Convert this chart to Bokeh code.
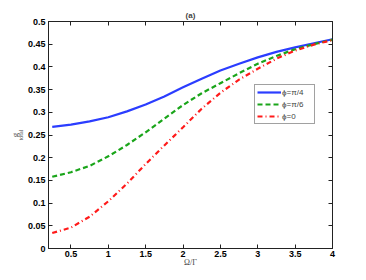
from bokeh.plotting import figure
from bokeh.models import LinearAxis, FixedTicker, Range1d, Legend, LegendItem, Title
from bokeh.embed import file_html
from bokeh.resources import INLINE

# ---- data ----
omega = [0.25, 0.5, 0.75, 1.0, 1.25, 1.5, 1.75, 2.0, 2.25, 2.5, 2.75, 3.0, 3.25, 3.5, 3.75, 4.0]
g_pi4 = [0.268, 0.273, 0.280, 0.289, 0.302, 0.317, 0.335, 0.355, 0.374, 0.392, 0.407, 0.421, 0.433, 0.443, 0.452, 0.461]
g_pi6 = [0.158, 0.168, 0.182, 0.203, 0.228, 0.256, 0.286, 0.316, 0.342, 0.364, 0.386, 0.407, 0.424, 0.439, 0.450, 0.460]
g_0 = [0.034, 0.046, 0.070, 0.104, 0.143, 0.186, 0.227, 0.267, 0.308, 0.343, 0.372, 0.396, 0.418, 0.436, 0.449, 0.459]
series_names = ["\u03d5=\u03c0/4", "\u03d5=\u03c0/6", "\u03d5=0"]

x_ticks = [0.5, 1.0, 1.5, 2.0, 2.5, 3.0, 3.5, 4.0]
x_tick_labels = ["0.5", "1", "1.5", "2", "2.5", "3", "3.5", "4"]
y_ticks = [0, 0.05, 0.1, 0.15, 0.2, 0.25, 0.3, 0.35, 0.4, 0.45, 0.5]
y_tick_labels = ["0", "0.05", "0.1", "0.15", "0.2", "0.25", "0.3", "0.35", "0.4", "0.45", "0.5"]

p = figure(width=358, height=272, output_backend="svg", toolbar_location=None,
           x_range=Range1d(0.2, 4.0), y_range=Range1d(0, 0.5),
           min_border_left=48, min_border_right=26, min_border_top=21, min_border_bottom=24)
p.background_fill_color = "white"
p.border_fill_color = "white"
p.outline_line_color = "#222222"
p.grid.visible = False

TICK_FONT = "Liberation Sans"

p.title.text = "(a)"
p.title.align = "center"
p.title.text_font = TICK_FONT
p.title.text_font_style = "bold"
p.title.text_font_size = "8px"
p.title.standoff = 4

def style_axis(ax, ticks, labels, show):
    ax.ticker = FixedTicker(ticks=ticks)
    ax.major_label_overrides = {t: (l if show else "") for t, l in zip(ticks, labels)}
    ax.major_tick_in = 4
    ax.major_tick_out = 0
    ax.minor_tick_in = 0
    ax.minor_tick_out = 0
    ax.axis_line_color = "#222222"
    ax.major_tick_line_color = "#222222"
    ax.major_label_text_font = TICK_FONT
    ax.major_label_text_font_style = "bold"
    ax.major_label_text_font_size = "9px"
    ax.major_label_text_color = "black"
    ax.major_label_standoff = 3

bottom_ax = p.below[0]
left_ax = p.left[0]
style_axis(bottom_ax, x_ticks, x_tick_labels, True)
style_axis(left_ax, y_ticks, y_tick_labels, True)
bottom_ax.major_label_standoff = 2

top_ax = LinearAxis()
right_ax = LinearAxis()
style_axis(top_ax, x_ticks, x_tick_labels, False)
style_axis(right_ax, y_ticks, y_tick_labels, False)
top_ax.major_label_standoff = 0
right_ax.major_label_standoff = 0
p.add_layout(top_ax, "above")
p.add_layout(right_ax, "right")

bottom_ax.axis_label = "\u03a9/\u0393"
bottom_ax.axis_label_text_font = "Liberation Serif"
bottom_ax.axis_label_text_font_style = "normal"
bottom_ax.axis_label_text_font_size = "8px"
bottom_ax.axis_label_standoff = -2

# y label: "g" with subscript "total", as two rotated titles on the left
ysub = Title(text="total", align="center", offset=7, standoff=1,
             text_font="Liberation Serif", text_font_size="6px", text_font_style="normal")
ymain = Title(text="g", align="center", offset=-5, standoff=-8,
              text_font="Liberation Serif", text_font_size="9px", text_font_style="normal")
p.add_layout(ysub, "left")
p.add_layout(ymain, "left")

r1 = p.line(omega, g_pi4, line_color="#2b3dff", line_width=2.2)
r2 = p.line(omega, g_pi6, line_color="#1aa51a", line_width=2.2, line_dash="5 3")
r3 = p.line(omega, g_0, line_color="#ff1a1a", line_width=2.2, line_dash="5 3 1 3")

legend = Legend(items=[LegendItem(label=series_names[0], renderers=[r1]),
                       LegendItem(label=series_names[1], renderers=[r2]),
                       LegendItem(label=series_names[2], renderers=[r3])],
                location=(206, 124), orientation="vertical")
legend.label_text_font = TICK_FONT
legend.label_text_font_size = "8px"
legend.label_height = 10
legend.label_width = 30
legend.glyph_height = 10
legend.glyph_width = 24
legend.spacing = 2
legend.padding = 2
legend.margin = 0
legend.label_standoff = 1
legend.border_line_color = "#444444"
legend.border_line_width = 1
legend.background_fill_alpha = 1
p.add_layout(legend, "center")

open("out.html", "w").write(file_html(p, INLINE))
